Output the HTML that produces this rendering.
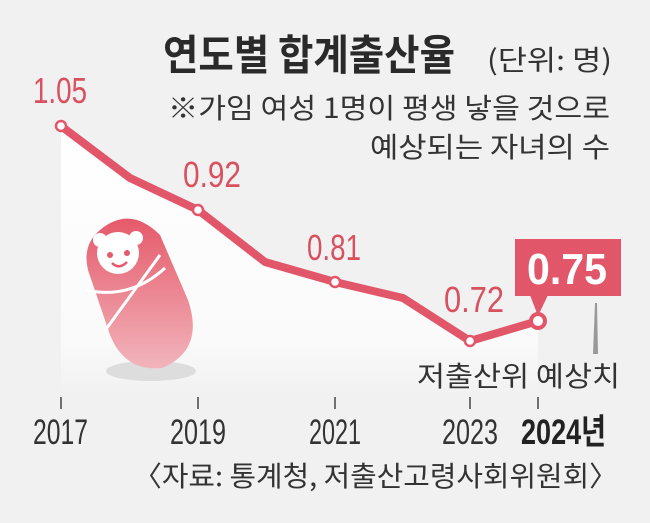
<!DOCTYPE html>
<html><head><meta charset="utf-8"><style>
html,body{margin:0;padding:0}
body{width:650px;height:518px;background:#f1f1f1;overflow:hidden}
</style></head><body>
<svg width="650" height="518" viewBox="0 0 650 518" xmlns="http://www.w3.org/2000/svg" font-family="Liberation Sans, Noto Sans CJK KR, sans-serif">
<defs>
<linearGradient id="bg" x1="0" y1="0" x2="0" y2="1"><stop offset="0" stop-color="#fff"/><stop offset="0.8" stop-color="#fafafa"/><stop offset="1" stop-color="#f1f1f1"/></linearGradient>
<linearGradient id="baby" x1="0" y1="0" x2="0" y2="1"><stop offset="0" stop-color="#e55a6a"/><stop offset="1" stop-color="#f2b4bc"/></linearGradient>
</defs>
<rect width="650" height="518" fill="#f1f1f1"/>
<polygon points="61,126 130,178 198,210 265,262 335,282 403,298 470,341 538,321 538,395 61,395" fill="url(#bg)"/>
<g font-family="Noto Sans CJK KR, sans-serif">
<text x="163" y="70" font-size="42" font-weight="bold" fill="#2a2a2a" textLength="292" lengthAdjust="spacingAndGlyphs">연도별 합계출산율</text>
<text x="487" y="70" font-size="28" fill="#333" textLength="125" lengthAdjust="spacingAndGlyphs">(단위: 명)</text>
<text x="168" y="118" font-size="28" fill="#333" textLength="442" lengthAdjust="spacingAndGlyphs">※가임 여성 1명이 평생 낳을 것으로</text>
<text x="370" y="157" font-size="28" fill="#333" textLength="240" lengthAdjust="spacingAndGlyphs">예상되는 자녀의 수</text>
</g>
<!-- baby -->
<ellipse cx="151" cy="371" rx="45" ry="10" fill="#ddd"/>
<path d="M100,230 Q130,205 160,235 L188,300 Q205,350 162,368 Q125,372 110,335 L88,270 Q82,245 100,230Z" fill="url(#baby)"/>
<circle cx="118" cy="253" r="21" fill="#fff"/>
<circle cx="100" cy="240" r="7" fill="#fff"/><circle cx="136" cy="238" r="7" fill="#fff"/>
<circle cx="110" cy="255" r="3" fill="#e55a6a"/><circle cx="127" cy="253" r="3" fill="#e55a6a"/>
<path d="M112,263 Q119,270 127,262" stroke="#e55a6a" stroke-width="2.5" fill="none"/>
<path d="M86,290 Q130,300 165,268" stroke="#fff" stroke-width="3" fill="none"/>
<path d="M104,332 L160,255" stroke="#fff" stroke-width="3" fill="none"/>
<polyline points="61,126 130,178 198,210 265,262 335,282 403,298 470,341 538,321" fill="none" stroke="#e2566a" stroke-width="8" stroke-linejoin="round"/>
<g fill="#fff" stroke="#e2566a" stroke-width="2.5">
<circle cx="61" cy="126" r="5"/><circle cx="198" cy="210" r="5"/><circle cx="335" cy="282" r="5"/><circle cx="470" cy="341" r="5"/>
<circle cx="538" cy="321" r="7" stroke-width="4"/></g>
<g fill="#d9505f" font-size="36" lengthAdjust="spacingAndGlyphs">
<text x="33" y="103" textLength="54" lengthAdjust="spacingAndGlyphs">1.05</text>
<text x="183" y="187" textLength="58" lengthAdjust="spacingAndGlyphs">0.92</text>
<text x="307" y="260" textLength="54" lengthAdjust="spacingAndGlyphs">0.81</text>
<text x="444" y="312" textLength="60" lengthAdjust="spacingAndGlyphs">0.72</text>
</g>
<polygon points="530,295 548,295 538,316" fill="#e2566a"/>
<rect x="515" y="239" width="106" height="57" fill="#e2566a"/>
<text x="527" y="284" font-size="44" font-weight="bold" fill="#fff" textLength="80" lengthAdjust="spacingAndGlyphs">0.75</text>
<polygon points="593,354 598,354 597,303 595,303" fill="#999"/>
<text x="417" y="386" font-size="28" fill="#333" textLength="203" lengthAdjust="spacingAndGlyphs" font-family="Noto Sans CJK KR, sans-serif">저출산위 예상치</text>
<g stroke="#444" stroke-width="1.5"><line x1="61" y1="397" x2="61" y2="409"/><line x1="198" y1="397" x2="198" y2="409"/><line x1="335" y1="397" x2="335" y2="409"/><line x1="470" y1="397" x2="470" y2="409"/><line x1="538" y1="397" x2="538" y2="409"/></g>
<g font-size="35" fill="#333">
<text x="33" y="444" textLength="55" lengthAdjust="spacingAndGlyphs">2017</text>
<text x="170" y="444" textLength="56" lengthAdjust="spacingAndGlyphs">2019</text>
<text x="309" y="444" textLength="52" lengthAdjust="spacingAndGlyphs">2021</text>
<text x="442" y="444" textLength="56" lengthAdjust="spacingAndGlyphs">2023</text>
</g>
<text x="521" y="444" font-size="35" font-weight="bold" fill="#222" textLength="85" lengthAdjust="spacingAndGlyphs" font-family="Liberation Sans, Noto Sans CJK KR, sans-serif">2024년</text>
<text x="133" y="486" font-size="28" fill="#333" textLength="485" lengthAdjust="spacingAndGlyphs" font-family="Noto Sans CJK KR, sans-serif">〈자료: 통계청, 저출산고령사회위원회〉</text>
</svg>
</body></html>
